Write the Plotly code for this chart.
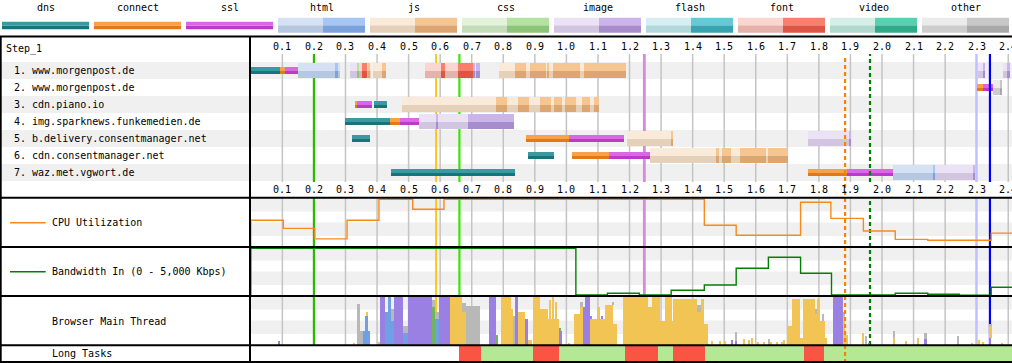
import plotly.graph_objects as go

W, H = 1012, 363
X0_PX = 250.8      # pixel of t = 0
PX_PER_S = 315.6   # pixels per second
FONT = "DejaVu Sans Mono"

# ---------------- data ----------------
LEGEND_NAMES = ["dns", "connect", "ssl", "html", "js", "css", "image", "flash", "font", "video", "other"]

TICKS = [0.1, 0.2, 0.3, 0.4, 0.5, 0.6, 0.7, 0.8, 0.9, 1.0, 1.1, 1.2,
         1.3, 1.4, 1.5, 1.6, 1.7, 1.8, 1.9, 2.0, 2.1, 2.2, 2.3, 2.4]
TICK_LABELS = ["0.1", "0.2", "0.3", "0.4", "0.5", "0.6", "0.7", "0.8", "0.9", "1.0", "1.1", "1.2",
               "1.3", "1.4", "1.5", "1.6", "1.7", "1.8", "1.9", "2.0", "2.1", "2.2", "2.3", "2.4"]

STEP_NAME = "Step_1"
ROW_NAMES = ["www.morgenpost.de", "www.morgenpost.de", "cdn.piano.io",
             "img.sparknews.funkemedien.de", "b.delivery.consentmanager.net",
             "cdn.consentmanager.net", "waz.met.vgwort.de"]

# (kind, start s, end s)
ROW1 = [("dns", 0.0, 0.0925), ("connect", 0.0925, 0.108), ("ssl", 0.108, 0.149),
        ("html", 0.149, 0.283), ("html_dl", 0.267, 0.277),
        ("image", 0.314, 0.337), ("css_dl", 0.337, 0.342), ("font", 0.342, 0.352),
        ("font_dl", 0.352, 0.369), ("font", 0.369, 0.373), ("js_dl", 0.373, 0.375), ("js", 0.375, 0.378),
        ("js", 0.387, 0.416), ("js_dl", 0.416, 0.419), ("js", 0.419, 0.424), ("js_dl", 0.424, 0.428),
        ("font", 0.552, 0.603), ("font_dl", 0.603, 0.615), ("font", 0.615, 0.656), ("font_dl", 0.656, 0.704),
        ("image", 0.704, 0.726), ("image_dl", 0.707, 0.710), ("image_dl", 0.715, 0.718), ("image_dl", 0.722, 0.726),
        ("js", 0.786, 0.837), ("js_dl", 0.837, 0.872), ("js", 0.872, 0.885), ("js_dl", 0.885, 0.918),
        ("js", 0.918, 0.921), ("js_dl", 0.921, 0.936), ("js", 0.936, 0.941), ("js_dl", 0.941, 0.945),
        ("js", 0.945, 0.958), ("js_dl", 0.958, 1.043), ("js", 1.043, 1.056), ("js_dl", 1.056, 1.189),
        ("image", 2.303, 2.322), ("image_dl", 2.322, 2.325),
        ("image", 2.383, 2.397), ("image_dl", 2.397, 2.406)]
ROW2 = [("connect", 2.300, 2.321), ("ssl", 2.321, 2.353), ("other", 2.353, 2.376), ("other_dl", 2.376, 2.379)]
ROW3 = [("connect", 0.333, 0.336), ("ssl", 0.336, 0.383), ("dns", 0.390, 0.431),
        ("js", 0.479, 0.777), ("js_dl", 0.777, 0.813), ("js", 0.813, 0.848), ("js_dl", 0.848, 0.882),
        ("js", 0.882, 0.916), ("js_dl", 0.916, 0.951), ("js", 0.951, 0.962), ("js_dl", 0.962, 0.985),
        ("js", 0.985, 0.996), ("js_dl", 0.996, 1.031), ("js", 1.031, 1.049), ("js_dl", 1.049, 1.075),
        ("js", 1.075, 1.088), ("js_dl", 1.088, 1.103)]
ROW4 = [("dns", 0.298, 0.441), ("connect", 0.441, 0.473), ("ssl", 0.473, 0.533),
        ("image", 0.533, 0.587), ("image_dl", 0.587, 0.592), ("image", 0.592, 0.689), ("image_dl", 0.689, 0.834)]
ROW5 = [("dns", 0.322, 0.378), ("connect", 0.872, 1.009), ("ssl", 1.009, 1.183),
        ("js", 1.192, 1.334), ("js_dl", 1.334, 1.337), ("image", 1.765, 1.897), ("image_dl", 1.897, 1.901)]
ROW6 = [("dns", 0.878, 0.961), ("connect", 1.018, 1.135), ("ssl", 1.135, 1.265),
        ("js", 1.265, 1.474), ("js_dl", 1.474, 1.484), ("js", 1.484, 1.492), ("js_dl", 1.492, 1.520),
        ("js", 1.520, 1.550), ("js_dl", 1.550, 1.634), ("js", 1.634, 1.638), ("js_dl", 1.638, 1.702)]
ROW7 = [("dns", 0.444, 0.837), ("connect", 1.765, 1.888), ("ssl", 1.888, 2.034),
        ("html", 2.034, 2.163), ("html_dl", 2.163, 2.166), ("image", 2.166, 2.289), ("image_dl", 2.289, 2.295)]
ROWS = [ROW1, ROW2, ROW3, ROW4, ROW5, ROW6, ROW7]

# page event markers (s)
MARKER_T = [0.200, 0.587, 0.661, 1.247, 1.883, 1.962, 2.299, 2.342]
MARKER_NAME = ["start_render", "dom_interactive", "fcp", "dcl", "layout_shift", "lcp", "onload", "doc_complete"]

# CPU utilisation (step start s, %)
CPU_T = [0.0, 0.103, 0.203, 0.305, 0.406, 0.513, 0.612, 1.437, 1.538, 1.742, 1.838, 1.941, 2.042, 2.145, 2.346]
CPU_PCT = [56, 39, 17, 56, 100, 79, 100, 45.5, 24.5, 93.7, 60, 33.5, 16, 14, 29]

# Bandwidth in (step start s, Kbps)
BW_T = [0.0, 1.030, 1.130, 1.231, 1.332, 1.437, 1.538, 1.640, 1.742, 1.840, 2.042, 2.145, 2.245, 2.346]
BW_KBPS = [5000, 105, 283, 105, 598, 1153, 2904, 4057, 2380, 105, 283, 178, 73, 912]

# Browser main thread activity: (start s, end s, low fraction, high fraction)
MT_SCRIPT = [(0.323, 0.330, 0, 0.05), (0.366, 0.369, 0.62, 0.70), (0.401, 0.409, 0, 0.06),
             (0.632, 0.668, 0, 1.0), (0.668, 0.682, 0, 0.70), (0.793, 0.824, 0, 1.0), (0.824, 0.831, 0, 0.75),
             (0.846, 0.869, 0, 0.70), (0.879, 0.892, 0, 0.10), (0.894, 0.915, 0, 1.0), (0.915, 0.942, 0, 0.75),
             (0.942, 0.978, 0, 0.55), (0.948, 0.951, 0.55, 0.95), (0.956, 0.959, 0.55, 1.0), (0.966, 0.969, 0.55, 0.9),
             (1.008, 1.012, 0, 0.04), (1.024, 1.043, 0, 0.65), (1.043, 1.053, 0, 0.80), (1.075, 1.091, 0, 0.55),
             (1.091, 1.123, 0, 0.55), (1.100, 1.105, 0.55, 0.80), (1.123, 1.148, 0, 0.85), (1.148, 1.160, 0, 0.45),
             (1.180, 1.259, 0, 1.0), (1.259, 1.271, 0, 0.80), (1.271, 1.297, 0, 1.0), (1.297, 1.312, 0, 0.50),
             (1.312, 1.335, 0, 1.0), (1.335, 1.338, 0, 0.50), (1.338, 1.414, 0, 0.97), (1.414, 1.426, 0, 0.70),
             (1.426, 1.436, 0, 0.97), (1.436, 1.448, 0, 0.45), (1.461, 1.466, 0, 0.08), (1.484, 1.487, 0, 0.08),
             (1.500, 1.503, 0, 0.08), (1.560, 1.567, 0, 0.12), (1.578, 1.581, 0, 0.10), (1.586, 1.589, 0, 0.14),
             (1.607, 1.610, 0, 0.06), (1.625, 1.628, 0, 0.06), (1.648, 1.651, 0, 0.06), (1.665, 1.668, 0, 0.06),
             (1.683, 1.686, 0, 0.06), (1.689, 1.692, 0, 0.10), (1.702, 1.715, 0, 0.40), (1.715, 1.740, 0, 0.97),
             (1.740, 1.749, 0, 0.15), (1.749, 1.787, 0, 0.97), (1.787, 1.797, 0, 0.65), (1.797, 1.803, 0, 0.97),
             (1.803, 1.819, 0, 0.50), (1.819, 1.825, 0, 0.15), (1.876, 1.883, 0, 0.60), (1.883, 1.892, 0, 0.20),
             (1.939, 1.942, 0, 0.25), (2.037, 2.042, 0, 0.15), (2.073, 2.077, 0, 0.08), (2.112, 2.116, 0, 0.15),
             (2.285, 2.288, 0, 0.05), (2.307, 2.310, 0, 0.10), (2.320, 2.323, 0, 0.06), (2.340, 2.350, 0.15, 0.40),
             (2.379, 2.382, 0, 0.04)]
MT_LAYOUT = [(0.087, 0.091, 0, 0.08), (0.409, 0.425, 0, 1.0), (0.453, 0.483, 0, 1.0), (0.498, 0.573, 0, 1.0),
             (0.596, 0.632, 0, 1.0), (0.755, 0.776, 0, 1.0), (0.840, 0.846, 0, 1.0), (0.869, 0.879, 0, 0.55),
             (0.978, 0.986, 0, 0.30), (1.053, 1.060, 0, 0.80), (1.060, 1.075, 0, 1.0), (1.075, 1.082, 0.55, 0.60),
             (1.110, 1.114, 0, 0.60), (1.436, 1.445, 0, 0.06), (1.522, 1.525, 0, 0.10), (1.535, 1.541, 0, 0.08),
             (1.740, 1.744, 0, 0.06), (1.845, 1.876, 0, 1.0), (1.957, 1.959, 0, 0.05), (2.134, 2.141, 0, 0.12),
             (2.340, 2.344, 0, 0.15)]
MT_PARSE = [(0.356, 0.378, 0, 0.30), (0.362, 0.371, 0.30, 0.62), (0.425, 0.435, 0, 0.70), (0.435, 0.443, 0, 1.0),
            (0.443, 0.453, 0, 0.50), (0.483, 0.498, 0, 0.25), (0.584, 0.596, 0, 0.55)]
MT_PAINT = [(0.573, 0.584, 0, 0.80), (0.776, 0.782, 0, 0.20), (0.978, 0.981, 0.30, 0.35)]
MT_OTHER = [(0.337, 0.347, 0, 0.87), (0.347, 0.356, 0, 0.30), (0.443, 0.453, 0.50, 0.75), (0.483, 0.498, 0.25, 0.40),
            (0.573, 0.584, 0.80, 0.95), (0.584, 0.596, 0.55, 0.70), (0.668, 0.682, 0.70, 0.88), (0.682, 0.726, 0, 0.82),
            (0.831, 0.840, 0, 0.60), (1.043, 1.053, 0.80, 0.90), (1.145, 1.148, 0.85, 0.90), (1.414, 1.426, 0.70, 0.85),
            (1.535, 1.541, 0.08, 0.27), (1.640, 1.643, 0, 0.12), (1.787, 1.797, 0.65, 0.75), (1.810, 1.816, 0.50, 0.65),
            (1.876, 1.883, 0.60, 0.70), (1.947, 1.950, 0, 0.18), (2.037, 2.042, 0.15, 0.30), (2.134, 2.141, 0.12, 0.25),
            (2.240, 2.245, 0, 0.18), (2.340, 2.350, 0.40, 0.45)]

# Long tasks: boundaries (s) and the state of each interval
LT_BOUNDS = [0.660, 0.729, 0.894, 0.977, 1.186, 1.291, 1.338, 1.439, 1.753, 1.817, 2.420]
LT_STATE = ["long", "ok", "long", "ok", "long", "ok", "long", "ok", "long", "ok"]

# ---------------- styles ----------------
# (top colour, bottom colour) -> two-tone approximation of the vertical gradient
KIND_COLOR = {
    "dns": ("#3a9aa0", "#17747a"), "connect": ("#f8a04a", "#e27816"), "ssl": ("#da68e4", "#b93bc7"),
    "html": ("#d6e2f3", "#b5c7e1"), "html_dl": ("#a6c6f6", "#7ca2dc"),
    "js": ("#faeada", "#e5d1b9"), "js_dl": ("#f6c692", "#dca673"),
    "css": ("#e3f3db", "#c4dcb8"), "css_dl": ("#b3e39f", "#8cc47a"),
    "image": ("#ebe3f5", "#d1c5e1"), "image_dl": ("#cbb3eb", "#a88dcc"),
    "flash": ("#d5eff2", "#b2d8dc"), "flash_dl": ("#63cbd5", "#38a4b0"),
    "font": ("#fbd5cf", "#e4b1ab"), "font_dl": ("#f97e6b", "#dc5545"),
    "video": ("#d3efe7", "#b0d8cc"), "video_dl": ("#57d1af", "#30aa88"),
    "other": ("#ebebeb", "#cdcdcd"), "other_dl": ("#c8c8c8", "#a9a9a9"),
}
THIN = {"dns", "connect", "ssl"}
MARKER_STYLE = {
    "start_render": ("#28bc00", 2.2, "solid"), "dom_interactive": ("#ffc61a", 2, "solid"),
    "fcp": ("#39e600", 2.2, "solid"), "dcl": ("#d888df", 2.8, "solid"),
    "layout_shift": ("#ff8000", 2.2, "4px,3px"), "lcp": ("#008000", 2.2, "4px,3px"),
    "onload": ("#c0c0ff", 2.2, "solid"), "doc_complete": ("#0000ff", 2.2, "solid"),
}
MT_COLOR = {"script": "#f1c453", "layout": "#9b80e3", "parse": "#70a0e4", "paint": "#71b35f", "other": "#b8b8b8"}
LT_COLOR = {"long": "#fa5442", "ok": "#b4e894"}
CPU_COLOR = "#f78a1d"
BW_COLOR = "#008000"
GRID_COLOR = "#c4c4c4"


def pxp(x):
    return x / W


def pyp(y):
    return 1 - y / H


T_MIN = (250 - X0_PX) / PX_PER_S
T_MAX = (W - X0_PX) / PX_PER_S
ROW_PX = 17.0
WF_TOP, WF_BOT = 54, 182
Y_TOP = 0.5 - (62 - WF_TOP) / ROW_PX
Y_BOT = Y_TOP + (WF_BOT - WF_TOP) / ROW_PX

fig = go.Figure()

# ---------- waterfall bars ----------
order = ["dns", "connect", "ssl", "html", "js", "css", "image", "font", "other",
         "html_dl", "js_dl", "css_dl", "image_dl", "font_dl", "other_dl"]
for kind in order:
    ys, xs, bs = [], [], []
    for r, segs in enumerate(ROWS, start=1):
        for k, s, e in segs:
            if k == kind:
                ys.append(r)
                xs.append(e - s)
                bs.append(s)
    if not ys:
        continue
    full = (7.5 / ROW_PX) if kind in THIN else (15 / ROW_PX)
    top_col, bot_col = KIND_COLOR[kind]
    fig.add_trace(go.Bar(orientation="h", y=ys, x=xs, base=bs, width=full,
                         marker=dict(color=bot_col, line=dict(width=0)),
                         xaxis="x", yaxis="y", hoverinfo="skip", showlegend=False))
    fig.add_trace(go.Bar(orientation="h", y=[v - full / 4 for v in ys], x=xs, base=bs, width=full / 2,
                         marker=dict(color=top_col, line=dict(width=0)),
                         xaxis="x", yaxis="y", hoverinfo="skip", showlegend=False))

# ---------- CPU ----------
fig.add_trace(go.Scatter(x=[0] + CPU_T + [T_MAX], y=[0] + CPU_PCT + [CPU_PCT[-1]],
                         mode="lines", line=dict(color=CPU_COLOR, width=1.4, shape="hv"),
                         xaxis="x", yaxis="y2", hoverinfo="skip", showlegend=False))
# ---------- Bandwidth ----------
fig.add_trace(go.Scatter(x=[0] + BW_T + [T_MAX], y=[0] + BW_KBPS + [BW_KBPS[-1]],
                         mode="lines", line=dict(color=BW_COLOR, width=1.4, shape="hv"),
                         xaxis="x", yaxis="y3", hoverinfo="skip", showlegend=False))

# ---------- main thread ----------
for cat, segs in [("other", MT_OTHER), ("parse", MT_PARSE), ("layout", MT_LAYOUT),
                  ("paint", MT_PAINT), ("script", MT_SCRIPT)]:
    fig.add_trace(go.Bar(x=[(a + b) / 2 for a, b, lo, hi in segs],
                         width=[b - a for a, b, lo, hi in segs],
                         y=[hi - lo for a, b, lo, hi in segs],
                         base=[lo for a, b, lo, hi in segs],
                         marker=dict(color=MT_COLOR[cat], line=dict(width=0)),
                         xaxis="x", yaxis="y4", hoverinfo="skip", showlegend=False))

# ---------- long tasks ----------
for state in ["long", "ok"]:
    idx = [i for i, s in enumerate(LT_STATE) if s == state]
    fig.add_trace(go.Bar(orientation="h", y=[0.5] * len(idx),
                         x=[LT_BOUNDS[i + 1] - LT_BOUNDS[i] for i in idx],
                         base=[LT_BOUNDS[i] for i in idx], width=1,
                         marker=dict(color=LT_COLOR[state], line=dict(width=0)),
                         xaxis="x2", yaxis="y5", hoverinfo="skip", showlegend=False))

shapes = []
annotations = []

# row backgrounds
for r in range(1, len(ROW_NAMES) + 1):
    if r % 2 == 1:
        shapes.append(dict(type="rect", xref="paper", yref="y", x0=0, x1=1, y0=r - 0.5, y1=r + 0.5,
                           fillcolor="#f0f0f0", line=dict(width=0), layer="below"))
# panel stripes
for top in [198, 247, 296]:
    for a, b in [(0.0, 0.275), (0.5, 0.775)]:
        shapes.append(dict(type="rect", xref="paper", yref="paper", x0=pxp(250), x1=1,
                           y0=pyp(top + 49 * b), y1=pyp(top + 49 * a),
                           fillcolor="#f0f0f0", line=dict(width=0), layer="below"))

# vertical time gridlines (waterfall and the three graph panels)
for tv in TICKS:
    for y0, y1 in [(54, 182), (198, 345)]:
        shapes.append(dict(type="line", xref="x", yref="paper", x0=tv, x1=tv, y0=pyp(y1), y1=pyp(y0),
                           line=dict(color=GRID_COLOR, width=1.5), layer="below"))

# markers
for t, name in zip(MARKER_T, MARKER_NAME):
    col, wd, dash = MARKER_STYLE[name]
    if name == "layout_shift":
        spans = [(58, 363, "above")]
    elif name in ("lcp", "doc_complete"):
        spans = [(54, 182, "above"), (198, 345, "below")]
    else:
        spans = [(54, 182, "below"), (198, 345, "below")]
    for y0, y1, layer in spans:
        shapes.append(dict(type="line", xref="x", yref="paper", x0=t, x1=t, y0=pyp(y1), y1=pyp(y0),
                           line=dict(color=col, width=wd, dash=dash), layer=layer))

# borders
for y in [36.5, 197.8, 247, 296, 345.3, 362]:
    shapes.append(dict(type="line", xref="paper", yref="paper", x0=0, x1=1, y0=pyp(y), y1=pyp(y),
                       line=dict(color="black", width=2), layer="above"))
for x in [0.7, 250]:
    shapes.append(dict(type="line", xref="paper", yref="paper", x0=pxp(x), x1=pxp(x), y0=pyp(36), y1=pyp(363),
                       line=dict(color="black", width=2), layer="above"))


def swatch(x0, x1, ytop, ybot, kind):
    top_col, bot_col = KIND_COLOR[kind]
    mid = (ytop + ybot) / 2
    shapes.append(dict(type="rect", xref="paper", yref="paper", x0=pxp(x0), x1=pxp(x1),
                       y0=pyp(ybot), y1=pyp(mid), fillcolor=bot_col, line=dict(width=0)))
    shapes.append(dict(type="rect", xref="paper", yref="paper", x0=pxp(x0), x1=pxp(x1),
                       y0=pyp(mid), y1=pyp(ytop), fillcolor=top_col, line=dict(width=0)))


# legend
for i, name in enumerate(LEGEND_NAMES):
    x0 = 2 + 92 * i
    annotations.append(dict(xref="paper", yref="paper", x=pxp(x0 + 43.5), y=pyp(7.5), text=name,
                            showarrow=False, xanchor="center", yanchor="middle",
                            font=dict(family=FONT, size=10, color="black")))
    if name in THIN:
        swatch(x0, x0 + 87, 21.7, 29.3, name)
    else:
        swatch(x0, x0 + 45, 17.7, 32.7, name)
        swatch(x0 + 45, x0 + 87, 17.7, 32.7, name + "_dl")

# tick labels (top and bottom of waterfall)
for tv, lbl in zip(TICKS, TICK_LABELS):
    for yy in [46.7, 190.0]:
        annotations.append(dict(xref="x", yref="paper", x=tv, y=pyp(yy), text=lbl, showarrow=False,
                                xanchor="center", yanchor="middle",
                                font=dict(family=FONT, size=10, color="black")))

# left column labels
annotations.append(dict(xref="paper", yref="paper", x=pxp(3.5), y=pyp(49.3), text=STEP_NAME, showarrow=False,
                        xanchor="left", yanchor="middle", font=dict(family=FONT, size=10, color="black")))
for r, nm in enumerate(ROW_NAMES, start=1):
    annotations.append(dict(xref="paper", yref="y", x=pxp(12), y=r, text=f"{r}. {nm}", showarrow=False,
                            xanchor="left", yanchor="middle", font=dict(family=FONT, size=10, color="black")))

for txt, yy in [("CPU Utilization", 222.7), ("Bandwidth In (0 - 5,000 Kbps)", 271.7),
                ("Browser Main Thread", 321.0), ("Long Tasks", 353.6)]:
    annotations.append(dict(xref="paper", yref="paper", x=pxp(49.5), y=pyp(yy), text=txt, showarrow=False,
                            xanchor="left", yanchor="middle", font=dict(family=FONT, size=10, color="black")))
for col, yy in [(CPU_COLOR, 222.7), (BW_COLOR, 271.7)]:
    shapes.append(dict(type="line", xref="paper", yref="paper", x0=pxp(10), x1=pxp(45.7), y0=pyp(yy), y1=pyp(yy),
                       line=dict(color=col, width=1.4)))

xcommon = dict(domain=[pxp(250), 1], range=[T_MIN, T_MAX], showticklabels=False, showgrid=False,
               ticks="", zeroline=False, showline=False, fixedrange=True)
fig.update_layout(
    width=W, height=H, margin=dict(l=0, r=0, t=0, b=0),
    paper_bgcolor="white", plot_bgcolor="rgba(0,0,0,0)",
    barmode="overlay", bargap=0, showlegend=False,
    xaxis=dict(**xcommon, anchor="y"),
    xaxis2=dict(**xcommon, anchor="y5", visible=False),
    yaxis=dict(domain=[pyp(WF_BOT), pyp(WF_TOP)], range=[Y_BOT, Y_TOP], visible=False, fixedrange=True),
    yaxis2=dict(domain=[pyp(247), pyp(198)], range=[0, 102.7], anchor="x", visible=False, fixedrange=True),
    yaxis3=dict(domain=[pyp(296), pyp(247)], range=[0, 5136], anchor="x", visible=False, fixedrange=True),
    yaxis4=dict(domain=[pyp(345), pyp(296)], range=[0, 1.03], anchor="x", visible=False, fixedrange=True),
    yaxis5=dict(domain=[pyp(362), pyp(345)], range=[0, 1], anchor="x2", visible=False, fixedrange=True),
    shapes=shapes, annotations=annotations,
)

fig.write_html("out.html", config={"displayModeBar": False},
               post_script="document.body.style.margin='0';document.body.style.padding='0';"
                           "document.body.style.overflow='hidden';")
